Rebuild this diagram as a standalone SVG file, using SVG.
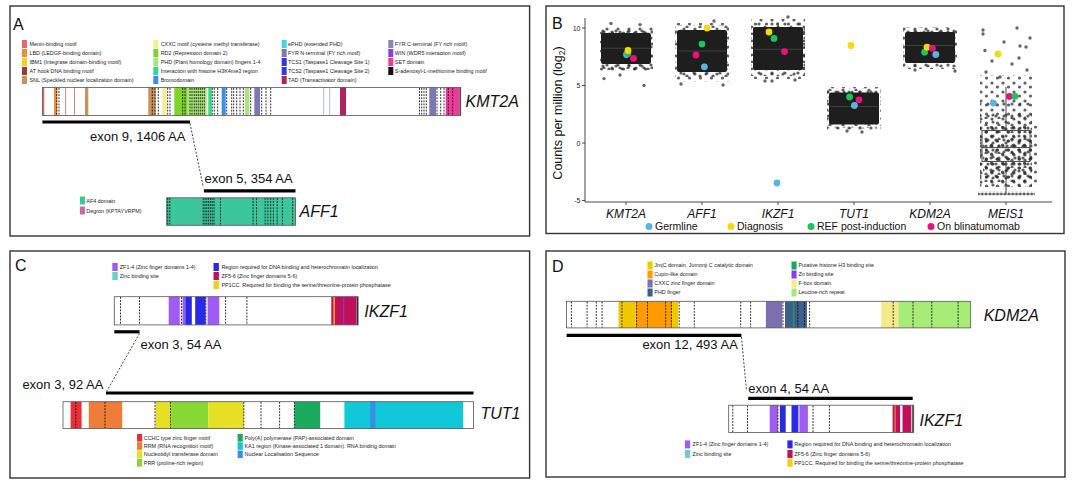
<svg xmlns="http://www.w3.org/2000/svg" width="1075" height="484" viewBox="0 0 1075 484">
<style>
.fr{fill:none;stroke:#333;stroke-width:1.4}
.pl{font-family:"Liberation Sans",Arial,sans-serif;font-size:16px;fill:#111}
.g{font-family:"Liberation Sans",Arial,sans-serif;font-size:16px;font-style:italic;fill:#111}
.ex{font-family:"Liberation Sans",Arial,sans-serif;font-size:13px;fill:#111}
.lg{font-family:"Liberation Sans",Arial,sans-serif;font-size:5.4px;fill:#222}
.bar{fill:#fff}
.bo{fill:none;stroke:#555;stroke-width:0.8}
.dl{fill:none;stroke:#111;stroke-width:0.9;stroke-dasharray:1.8 1.3}
.eb{stroke:#000;stroke-width:3.2}
.cn{fill:none;stroke:#111;stroke-width:0.8;stroke-dasharray:2 1.6}
.bx{fill:#fff;stroke:#444;stroke-width:0.9}
.bxo{fill:none;stroke:#333;stroke-width:0.9}
.md{stroke:#444;stroke-width:0.9}
.ax{font-family:"Liberation Sans",Arial,sans-serif;font-size:7px;fill:#222}
.xl{font-family:"Liberation Sans",Arial,sans-serif;font-size:12px;font-style:italic;fill:#111}
.lt{font-family:"Liberation Sans",Arial,sans-serif;font-size:10.5px;fill:#111}
.core{fill:#1e1e1e}
.ha{fill:url(#pa)}
.hb{fill:url(#pb)}
.hc{fill:url(#pc)}
.pt{fill:#333;fill-opacity:.75}
.axl{stroke:#333;stroke-width:0.9;fill:none}
</style>
<defs>
<pattern id="pa" width="11" height="9" patternUnits="userSpaceOnUse">
<g fill="#2a2a2a" fill-opacity="0.75"><circle cx="2" cy="2" r="1.6"/><circle cx="7.5" cy="6" r="1.6"/></g>
</pattern>
<pattern id="pb" width="13" height="7" patternUnits="userSpaceOnUse">
<g fill="#2a2a2a" fill-opacity="0.75"><circle cx="5" cy="3" r="1.6"/><circle cx="11" cy="6.2" r="1.6"/></g>
</pattern>
<pattern id="pc" width="8" height="12" patternUnits="userSpaceOnUse">
<circle cx="4" cy="8" r="1.6" fill="#2a2a2a" fill-opacity="0.75"/>
</pattern>
<pattern id="pf" width="3.8" height="4" patternUnits="userSpaceOnUse">
<circle cx="1.9" cy="2" r="1.6" fill="#333" fill-opacity="0.8"/>
</pattern>
</defs>
<rect width="1075" height="484" fill="#fff"/>

<!-- ================= PANEL A ================= -->
<g id="panel-a">
<rect class="fr" x="10" y="6" width="519.6" height="230"/>
<text class="pl" x="13" y="29.5">A</text>
<g id="legend-a">
<rect x="22" y="40" width="5" height="8" fill="#e8676b"/><text class="lg" x="29.5" y="46">Menin-binding motif</text>
<rect x="22" y="49" width="5" height="8" fill="#f08c32"/><text class="lg" x="29.5" y="55">LBD (LEDGF-binding domain)</text>
<rect x="22" y="58" width="5" height="8" fill="#f2d31b"/><text class="lg" x="29.5" y="64">IBM1 (Integrase domain-binding motif)</text>
<rect x="22" y="67" width="5" height="8" fill="#a0392e"/><text class="lg" x="29.5" y="73">AT hook DNA binding motif</text>
<rect x="22" y="76" width="5" height="8" fill="#c8925a"/><text class="lg" x="29.5" y="82">SNL (Speckled nuclear localization domain)</text>
<rect x="153.3" y="40" width="5" height="8" fill="#f3ee95"/><text class="lg" x="160.7" y="46">CXXC motif (cysteine methyl transferase)</text>
<rect x="153.3" y="49" width="5" height="8" fill="#7fd42a"/><text class="lg" x="160.7" y="55">RD2 (Repression domain 2)</text>
<rect x="153.3" y="58" width="5" height="8" fill="#a9e67a"/><text class="lg" x="160.7" y="64">PHD (Plant homology domain) fingers 1-4</text>
<rect x="153.3" y="67" width="5" height="8" fill="#2ed890"/><text class="lg" x="160.7" y="73">Interaction with histone H3K4me3 region</text>
<rect x="153.3" y="76" width="5" height="8" fill="#3a8ee6"/><text class="lg" x="160.7" y="82">Bromodomain</text>
<rect x="281.7" y="40" width="5" height="8" fill="#3dd8e0"/><text class="lg" x="288" y="46">ePHD (extended PHD)</text>
<rect x="281.7" y="49" width="5" height="8" fill="#7b79b5"/><text class="lg" x="288" y="55">FYR N-terminal (FY rich motif)</text>
<rect x="281.7" y="58" width="5" height="8" fill="#3333ee"/><text class="lg" x="288" y="64">TCS1 (Taspase1 Cleavage Site 1)</text>
<rect x="281.7" y="67" width="5" height="8" fill="#3535f0"/><text class="lg" x="288" y="73">TCS2 (Taspase1 Cleavage Site 2)</text>
<rect x="281.7" y="76" width="5" height="8" fill="#b0245a"/><text class="lg" x="288" y="82">TAD (Transactivator domain)</text>
<rect x="388.3" y="40" width="5" height="8" fill="#8a84b8"/><text class="lg" x="394.8" y="46">FYR C-terminal (FY rich motif)</text>
<rect x="388.3" y="49" width="5" height="8" fill="#8a3cf0"/><text class="lg" x="394.8" y="55">WIN (WDR5 interaction motif)</text>
<rect x="388.3" y="58" width="5" height="8" fill="#f03a9a"/><text class="lg" x="394.8" y="64">SET domain</text>
<rect x="388.3" y="67" width="5" height="8" fill="#111"/><text class="lg" x="394.8" y="73">S-adenosyl-L-methionine binding motif</text>
</g>
<g id="kmt2a">
<rect class="bar" x="42.4" y="87.5" width="418.3" height="28"/>
<g>
<rect x="42.4" y="87.5" width="1.9" height="28" fill="#e8676b"/>
<rect x="54" y="87.5" width="3.3" height="28" fill="#f08c32"/>
<rect x="65.3" y="87.5" width="0.8" height="28" fill="#b9706a"/>
<rect x="74" y="87.5" width="0.8" height="28" fill="#cc6a5e"/>
<rect x="85" y="87.5" width="3.3" height="28" fill="#c8925a"/>
<rect x="148.3" y="87.5" width="7.4" height="28" fill="#c8925a"/>
<rect x="162.3" y="87.5" width="4.4" height="28" fill="#f3ee95"/>
<rect x="174.3" y="87.5" width="13.4" height="28" fill="#7fd42a"/>
<rect x="187.7" y="87.5" width="19" height="28" fill="#a9e67a"/>
<rect x="208.3" y="87.5" width="3.4" height="28" fill="#34d68c"/>
<rect x="221.7" y="87.5" width="4" height="28" fill="#3a8ee6"/>
<rect x="245" y="87.5" width="4.3" height="28" fill="#a9e67a"/>
<rect x="254.3" y="87.5" width="5.7" height="28" fill="#7b79b5"/>
<rect x="323.3" y="87.5" width="0.9" height="28" fill="#a8a8ee"/>
<rect x="329.3" y="87.5" width="0.9" height="28" fill="#a8a8ee"/>
<rect x="340" y="87.5" width="6" height="28" fill="#b0245a"/>
<rect x="429.3" y="87.5" width="6.7" height="28" fill="#7b79b5"/>
<rect x="445.7" y="87.5" width="13.6" height="28" fill="#f03a9a"/>
<rect x="459.6" y="87.5" width="1.1" height="28" fill="#000"/>
</g>
<path class="dl" d="M56.7 88V115M59 88V115M152.3 88V115M155 88V115M158.3 88V115M167.7 88V115M170 88V115M182.7 88V115M185 88V115M190 88V115M192 88V115M194.3 88V115M196.3 88V115M198.3 88V115M200.3 88V115M202.3 88V115M204.3 88V115M212.3 88V115M214.3 88V115M217.7 88V115M226.7 88V115M231.7 88V115M233.7 88V115M236.7 88V115M240 88V115M243.3 88V115M250.7 88V115M261.7 88V115M266 88V115M270.7 88V115M419.5 88V115M421.7 88V115M424 88V115M426.3 88V115M437 88V115M440.7 88V115M444 88V115M448.3 88V115M452.7 88V115"/>
<rect class="bo" x="42.4" y="87.5" width="418.3" height="28"/>
<text class="g" x="465.5" y="107">KMT2A</text>
</g>
<g id="exon9">
<line class="eb" x1="42.4" y1="122" x2="190" y2="122"/>
<text class="ex" x="90" y="141">exon 9, 1406 AA</text>
</g>
<g id="exon5">
<text class="ex" x="204.5" y="183.3">exon 5, 354 AA</text>
<line class="eb" x1="203.9" y1="190.9" x2="295.5" y2="190.9"/>
</g>
<g id="aff1">
<rect x="166.7" y="197.8" width="128.8" height="27.5" fill="#3cc79a"/>
<rect x="197.5" y="197.8" width="1" height="27.5" fill="#6fa892"/>
<path class="dl" d="M167.7 198V225M169.8 198V225M203.2 198V225M205 198V225M206.8 198V225M208.6 198V225M210.4 198V225M212.2 198V225M214 198V225M220.4 198V225M253.1 198V225M256.5 198V225M265.2 198V225M267.9 198V225M270.7 198V225M273.4 198V225M277.2 198V225M282.4 198V225M292.7 198V225"/>
<rect class="bo" x="166.7" y="197.8" width="128.8" height="27.5"/>
<text class="g" x="299.6" y="216.5">AFF1</text>
</g>
<g id="legend-aff1">
<rect x="79.9" y="196.5" width="5" height="8" fill="#3cc79a"/><text class="lg" x="86.3" y="202.5">AF4 domain</text>
<rect x="79.9" y="206.5" width="5" height="8" fill="#c86aa8"/><text class="lg" x="86.3" y="212.5">Degron (KPTAYVRPM)</text>
</g>
</g>

<!-- ================= PANEL B ================= -->
<g id="panel-b">
<rect class="fr" x="546" y="6" width="518" height="227.5"/>
<text class="pl" x="552" y="29">B</text>
<g id="axes-b">
<path class="axl" d="M585 18V202H1052"/>
<path class="axl" d="M582 28H585M582 85.5H585M582 143H585M582 200.5H585M626 202V205M702 202V205M778 202V205M854 202V205M930 202V205M1006 202V205"/>
<text class="ax" x="580.5" y="30.5" text-anchor="end">10</text>
<text class="ax" x="580.5" y="88" text-anchor="end">5</text>
<text class="ax" x="580.5" y="145.5" text-anchor="end">0</text>
<text class="ax" x="580.5" y="203" text-anchor="end">-5</text>
<text font-family="Liberation Sans, Arial, sans-serif" font-size="12.5" fill="#111" transform="translate(562,113) rotate(-90)" text-anchor="middle">Counts per million (log<tspan font-size="8.5" dy="2.8">2</tspan><tspan dy="-2.8">)</tspan></text>
<text class="xl" x="626" y="218" text-anchor="middle">KMT2A</text>
<text class="xl" x="702" y="218" text-anchor="middle">AFF1</text>
<text class="xl" x="778" y="218" text-anchor="middle">IKZF1</text>
<text class="xl" x="854" y="218" text-anchor="middle">TUT1</text>
<text class="xl" x="930" y="218" text-anchor="middle">KDM2A</text>
<text class="xl" x="1006" y="218" text-anchor="middle">MEIS1</text>
</g>
<g id="b-kmt2a">
<rect class="bx" x="602" y="43.2" width="48" height="10.1"/>
<rect class="ha" x="599" y="26" width="54" height="46"/>
<rect class="hb" x="599" y="28" width="54" height="42"/>
<rect class="hc" x="599" y="29" width="54" height="40"/>
<rect class="core" x="601" y="33" width="50" height="31" rx="2"/>
<line class="md" x1="602" y1="48.2" x2="650" y2="48.2"/>
<circle class="pt" cx="611" cy="23.4" r="1.7"/><circle class="pt" cx="640" cy="24.6" r="1.7"/><circle class="pt" cx="604" cy="78.6" r="1.7"/><circle class="pt" cx="644" cy="85.5" r="1.7"/><circle class="pt" cx="620" cy="75" r="1.7"/>
<circle cx="626.5" cy="54.5" r="3.4" fill="#5ab4e0"/>
<circle cx="628" cy="53.3" r="3.4" fill="#1cc45a"/>
<circle cx="628" cy="50.5" r="3.4" fill="#f5d90a"/>
<circle cx="633.5" cy="58.4" r="3.4" fill="#e8137a"/>
</g>
<g id="b-aff1">
<rect class="bx" x="678" y="45.3" width="48" height="11.5"/>
<rect class="ha" x="675" y="23" width="54" height="59"/>
<rect class="hb" x="675" y="25" width="54" height="53"/>
<rect class="hc" x="675" y="26" width="54" height="50"/>
<rect class="core" x="677" y="30" width="50" height="42" rx="2"/>
<line class="md" x1="678" y1="51" x2="726" y2="51"/>
<circle class="pt" cx="681" cy="84" r="1.7"/><circle class="pt" cx="723" cy="85" r="1.7"/><circle class="pt" cx="714" cy="21" r="1.7"/>
<circle cx="704.4" cy="66.8" r="3.4" fill="#5ab4e0"/>
<circle cx="707" cy="28" r="3.4" fill="#f5d90a"/>
<circle cx="702" cy="44.1" r="3.4" fill="#1cc45a"/>
<circle cx="696" cy="55" r="3.4" fill="#e8137a"/>
</g>
<g id="b-ikzf1">
<line class="md" x1="778" y1="22.3" x2="778" y2="70.6"/>
<rect class="bx" x="754" y="41.8" width="48" height="16.1"/>
<rect class="ha" x="751" y="19" width="54" height="60"/>
<rect class="hb" x="751" y="21" width="54" height="55"/>
<rect class="hc" x="751" y="22" width="54" height="52"/>
<rect class="core" x="753" y="27" width="50" height="43" rx="2"/>
<line class="md" x1="754" y1="49.3" x2="802" y2="49.3"/>
<circle class="pt" cx="765" cy="81" r="1.7"/><circle class="pt" cx="772" cy="81" r="1.7"/><circle class="pt" cx="795" cy="80" r="1.7"/><circle class="pt" cx="788" cy="17" r="1.7"/>
<circle cx="769" cy="32" r="3.4" fill="#f5d90a"/>
<circle cx="774" cy="38.4" r="3.4" fill="#1cc45a"/>
<circle cx="784.5" cy="51.6" r="3.4" fill="#e8137a"/>
<circle cx="777" cy="183" r="3.4" fill="#5ab4e0"/>
</g>
<g id="b-tut1">
<rect class="bx" x="830" y="102.2" width="48" height="8.6"/>
<rect class="ha" x="827" y="87" width="54" height="43"/>
<rect class="hb" x="827" y="88.5" width="54" height="40"/>
<rect class="hc" x="827" y="89.5" width="54" height="38"/>
<rect class="core" x="829" y="92.5" width="50" height="32" rx="2"/>
<line class="md" x1="830" y1="106.5" x2="878" y2="106.5"/>
<circle class="pt" cx="862" cy="132" r="1.7"/><circle class="pt" cx="847" cy="131" r="1.7"/>
<circle cx="851" cy="45.5" r="3.4" fill="#f5d90a"/>
<circle cx="849.6" cy="97" r="3.4" fill="#1cc45a"/>
<circle cx="854.4" cy="105.5" r="3.4" fill="#5ab4e0"/>
<circle cx="859" cy="99.8" r="3.4" fill="#e8137a"/>
</g>
<g id="b-kdm2a">
<rect class="bx" x="906" y="41.8" width="48" height="8.1"/>
<rect class="ha" x="903" y="26" width="54" height="43"/>
<rect class="hb" x="903" y="27.5" width="54" height="40"/>
<rect class="hc" x="903" y="28.5" width="54" height="38"/>
<rect class="core" x="905" y="32" width="50" height="31" rx="2"/>
<line class="md" x1="906" y1="45.5" x2="954" y2="45.5"/>
<circle class="pt" cx="955" cy="71" r="1.7"/><circle class="pt" cx="915" cy="70" r="1.7"/>
<circle cx="924.6" cy="52.2" r="3.4" fill="#1cc45a"/>
<circle cx="935.8" cy="54.5" r="3.4" fill="#5ab4e0"/>
<circle cx="927" cy="47.2" r="3.4" fill="#f5d90a"/>
<circle cx="932.4" cy="48.2" r="3.4" fill="#e8137a"/>
</g>
<g id="b-meis1">
<rect class="ha" x="980" y="75" width="52" height="112"/>
<rect class="hc" x="980" y="100" width="52" height="87"/>
<rect class="hb" x="980" y="112" width="52" height="75"/>
<rect class="ha" x="980" y="122" width="52" height="58" transform="translate(5 4)"/>
<rect class="hc" x="980" y="130" width="52" height="40" transform="translate(3 6)"/>
<rect x="978" y="191.6" width="57" height="4" fill="url(#pf)"/>
<circle class="pt" cx="985" cy="50.5" r="1.7"/><circle class="pt" cx="1026" cy="47" r="1.7"/><circle class="pt" cx="1020" cy="46" r="1.7"/><circle class="pt" cx="1030" cy="38" r="1.7"/><circle class="pt" cx="983" cy="30" r="1.7"/><circle class="pt" cx="983" cy="34" r="1.7"/><circle class="pt" cx="1017" cy="28" r="1.7"/><circle class="pt" cx="1004" cy="42" r="1.7"/><circle class="pt" cx="992" cy="61" r="1.7"/><circle class="pt" cx="1012" cy="64" r="1.7"/><circle class="pt" cx="1027" cy="70" r="1.7"/><circle class="pt" cx="986" cy="72" r="1.7"/><circle class="pt" cx="1000" cy="77" r="1.7"/><circle class="pt" cx="1019" cy="58" r="1.7"/>
<line x1="1006" y1="87" x2="1006" y2="130.4" stroke="#333" stroke-width="0.9"/>
<line x1="1006" y1="161.4" x2="1006" y2="193.6" stroke="#333" stroke-width="0.9"/>
<rect class="bxo" x="982" y="130.4" width="48" height="31"/>
<line x1="982" y1="147.6" x2="1030" y2="147.6" stroke="#333" stroke-width="0.9"/>
<circle cx="998" cy="53.9" r="3.4" fill="#f5d90a"/>
<circle cx="993.4" cy="103.1" r="3.4" fill="#5ab4e0"/>
<circle cx="1009.4" cy="96.4" r="3.4" fill="#e8137a"/>
<circle cx="1015" cy="96.4" r="3.4" fill="#1cc45a"/>
</g>
<g id="legend-b">
<circle cx="649" cy="226.5" r="3.5" fill="#5ab4e0"/><text class="lt" x="655" y="230">Germline</text>
<circle cx="731" cy="226.5" r="3.5" fill="#f5d90a"/><text class="lt" x="737" y="230">Diagnosis</text>
<circle cx="811" cy="226.5" r="3.5" fill="#1cc45a"/><text class="lt" x="817" y="230">REF post-induction</text>
<circle cx="931" cy="226.5" r="3.5" fill="#e8137a"/><text class="lt" x="937" y="230">On blinatumomab</text>
</g>
</g>

<!-- ================= PANEL C ================= -->
<g id="panel-c">
<rect class="fr" x="10" y="251" width="519.6" height="227"/>
<text class="pl" x="15" y="271">C</text>
<g id="legend-c-top">
<rect x="112.3" y="263" width="5.4" height="8" fill="#a05cf2"/><text class="lg" x="119.8" y="268.7">ZF1-4 (Zinc finger domains 1-4)</text>
<rect x="112.3" y="272" width="5.4" height="8" fill="#6cd0c0"/><text class="lg" x="119.8" y="277.7">Zinc binding site</text>
<rect x="213.5" y="263" width="5.4" height="8" fill="#2a2ae6"/><text class="lg" x="221.4" y="268.7">Region  required for DNA binding and heterochromatin localization</text>
<rect x="213.5" y="272" width="5.4" height="8" fill="#c0105a"/><text class="lg" x="221.4" y="277.7">ZF5-6 (Zinc finger domains 5-6)</text>
<rect x="213.5" y="281" width="5.4" height="8" fill="#f0d010"/><text class="lg" x="221.4" y="286.7">PP1CC. Required for binding the serine/threonine-protein phosphatase</text>
</g>
<g id="ikzf1-c">
<rect class="bar" x="114.3" y="296.7" width="243.8" height="28.2"/>
<rect x="168.7" y="296.7" width="11.1" height="28.2" fill="#a05cf2"/>
<rect x="182.5" y="296.7" width="2.8" height="28.2" fill="#a05cf2"/>
<rect x="185.3" y="296.7" width="6.5" height="28.2" fill="#2a2ae6"/>
<rect x="195.2" y="296.7" width="10.4" height="28.2" fill="#2a2ae6"/>
<rect x="207.6" y="296.7" width="11.7" height="28.2" fill="#a05cf2"/>
<rect x="331.3" y="296.7" width="25.1" height="28.2" fill="#c0105a"/>
<rect x="333.3" y="296.7" width="1.7" height="28.2" fill="#f5a020"/>
<rect x="343.2" y="296.7" width="1" height="28.2" fill="#8040d0"/>
<rect x="356.6" y="296.7" width="1.5" height="28.2" fill="#222"/>
<path class="dl" d="M120.5 297V324.5M139.5 297V324.5M181.5 297V324.5M205.9 297V324.5M225.6 297V324.5M246.9 297V324.5"/>
<rect class="bo" x="114.3" y="296.7" width="243.8" height="28.2"/>
<text class="g" x="364.3" y="317.3">IKZF1</text>
</g>
<g id="exon3-ikzf1">
<line class="eb" x1="114.3" y1="331.8" x2="139.5" y2="331.8"/>
<text class="ex" x="140.5" y="349.3">exon 3, 54 AA</text>
</g>
<g id="exon3-tut1">
<text class="ex" x="22.4" y="388.6">exon 3, 92 AA</text>
<line class="eb" x1="106" y1="393" x2="473.5" y2="393"/>
</g>
<g id="tut1">
<rect class="bar" x="63" y="401.7" width="410.5" height="26.8"/>
<rect x="70.6" y="401.7" width="11" height="26.8" fill="#e8303a"/>
<rect x="88.8" y="401.7" width="33.4" height="26.8" fill="#f07c3a"/>
<rect x="155.6" y="401.7" width="15.5" height="26.8" fill="#e6e025"/>
<rect x="171.1" y="401.7" width="37.2" height="26.8" fill="#88d838"/>
<rect x="208.3" y="401.7" width="35.5" height="26.8" fill="#e6e025"/>
<rect x="294.4" y="401.7" width="25.8" height="26.8" fill="#1aab5e"/>
<rect x="344.4" y="401.7" width="118.8" height="26.8" fill="#10c8d8"/>
<rect x="370.2" y="401.7" width="5.1" height="26.8" fill="#3a8ee6"/>
<path class="dl" d="M75.8 402V428M105 402V428M155 402V428M170.5 402V428M243.8 402V428M261 402V428M279.6 402V428M294.4 402V428"/>
<rect class="bo" x="63" y="401.7" width="410.5" height="26.8"/>
<text class="g" x="480.4" y="418.9">TUT1</text>
</g>
<g id="legend-c-bottom">
<rect x="137" y="434" width="5.2" height="7.6" fill="#e8303a"/><text class="lg" x="143.8" y="439.5">CCHC type zinc finger motif</text>
<rect x="137" y="442.2" width="5.2" height="7.6" fill="#f07c3a"/><text class="lg" x="143.8" y="447.7">RRM (RNA recognition motif)</text>
<rect x="137" y="450.5" width="5.2" height="7.6" fill="#e6e025"/><text class="lg" x="143.8" y="456.2">Nucleotidyl transferase domain</text>
<rect x="137" y="459" width="5.2" height="7.6" fill="#88d838"/><text class="lg" x="143.8" y="464.7">PRR (proline-rich region)</text>
<rect x="237.6" y="434" width="5.2" height="7.6" fill="#1aab5e"/><text class="lg" x="244.5" y="439.5">Poly(A) polymerase (PAP)-associated domain</text>
<rect x="237.6" y="442.2" width="5.2" height="7.6" fill="#10c8d8"/><text class="lg" x="244.5" y="447.7">KA1 region (Kinase-associated 1 domain). RNA binding domain</text>
<rect x="237.6" y="450.5" width="5.2" height="7.6" fill="#3a8ee6"/><text class="lg" x="244.5" y="456.2">Nuclear Localisation Sequence</text>
</g>
</g>

<!-- ================= PANEL D ================= -->
<g id="panel-d">
<rect class="fr" x="546" y="251" width="519" height="226"/>
<text class="pl" x="552" y="271.6">D</text>
<g id="legend-d-top">
<rect x="647.5" y="261.5" width="5.1" height="8" fill="#f0c800"/><text class="lg" x="654.3" y="267.4">JmjC domain, Jumonji C catalytic domain</text>
<rect x="647.5" y="270.5" width="5.1" height="8" fill="#ff9a00"/><text class="lg" x="654.3" y="276.4">Cupin-like domain</text>
<rect x="647.5" y="279.5" width="5.1" height="8" fill="#7b6fb0"/><text class="lg" x="654.3" y="285.4">CXXC zinc finger domain</text>
<rect x="647.5" y="288.5" width="5.1" height="8" fill="#3e5f8a"/><text class="lg" x="654.3" y="294.4">PHD finger</text>
<rect x="791.5" y="261.5" width="5.1" height="8" fill="#1aa860"/><text class="lg" x="798.4" y="267.4">Putative histone H3 binding site</text>
<rect x="791.5" y="270.5" width="5.1" height="8" fill="#8a3cf0"/><text class="lg" x="798.4" y="276.4">Zn binding site</text>
<rect x="791.5" y="279.5" width="5.1" height="8" fill="#f5ea8a"/><text class="lg" x="798.4" y="285.4">F-box domain</text>
<rect x="791.5" y="288.5" width="5.1" height="8" fill="#a8ec78"/><text class="lg" x="798.4" y="294.4">Leucine-rich repeat</text>
</g>
<g id="kdm2a">
<rect class="bar" x="566.6" y="301.3" width="404.1" height="26.6"/>
<rect x="618.5" y="301.3" width="17.1" height="26.6" fill="#f0c800"/>
<rect x="635.6" y="301.3" width="36.5" height="26.6" fill="#ff9a00"/>
<rect x="672.1" y="301.3" width="6.1" height="26.6" fill="#f0c800"/>
<rect x="765.9" y="301.3" width="16.4" height="26.6" fill="#7b6fb0"/>
<rect x="785" y="301.3" width="21.9" height="26.6" fill="#3e5f8a"/>
<rect x="793.2" y="301.3" width="1" height="26.6" fill="#1aa860"/>
<rect x="881.3" y="301.3" width="17.1" height="26.6" fill="#f5ea8a"/>
<rect x="898.4" y="301.3" width="72.3" height="26.6" fill="#a8ec78"/>
<path class="dl" d="M571.4 301.7V327.5M587.1 301.7V327.5M596.3 301.7V327.5M602.1 301.7V327.5M621.9 301.7V327.5M636.6 301.7V327.5M647.5 301.7V327.5M665.6 301.7V327.5M671.4 301.7V327.5M679.2 301.7V327.5M694.3 301.7V327.5M740.7 301.7V327.5M750.6 301.7V327.5M783 301.7V327.5M797.7 301.7V327.5M804.5 301.7V327.5M809.6 301.7V327.5M893.2 301.7V327.5M913 301.7V327.5M931.8 301.7V327.5M958.1 301.7V327.5"/>
<rect class="bo" x="566.6" y="301.3" width="404.1" height="26.6"/>
<text class="g" x="983.7" y="320.8">KDM2A</text>
</g>
<g id="exon12">
<line class="eb" x1="566.6" y1="335.4" x2="741.4" y2="335.4"/>
<text class="ex" x="642.4" y="349.1">exon 12, 493 AA</text>
</g>
<g id="exon4">
<text class="ex" x="748.2" y="392.5">exon 4, 54 AA</text>
<line class="eb" x1="748.2" y1="398.3" x2="912.7" y2="398.3"/>
</g>
<g id="ikzf1-d">
<rect class="bar" x="728.7" y="405.2" width="185" height="27.3"/>
<rect x="769.7" y="405.2" width="8.2" height="27.3" fill="#a05cf2"/>
<rect x="779.9" y="405.2" width="5.8" height="27.3" fill="#2a2ae6"/>
<rect x="791.5" y="405.2" width="6.9" height="27.3" fill="#2a2ae6"/>
<rect x="799.4" y="405.2" width="8.5" height="27.3" fill="#a05cf2"/>
<rect x="892.6" y="405.2" width="7.5" height="27.3" fill="#c0105a"/>
<rect x="894.6" y="405.2" width="1" height="27.3" fill="#f5a020"/>
<rect x="902.5" y="405.2" width="8.8" height="27.3" fill="#c0105a"/>
<rect x="912.3" y="405.2" width="1.4" height="27.3" fill="#222"/>
<path class="dl" d="M732.8 405.6V432M747.5 405.6V432M777.9 405.6V432M813 405.6V432M829.4 405.6V432"/>
<rect class="bo" x="728.7" y="405.2" width="185" height="27.3"/>
<text class="g" x="919.5" y="426.3">IKZF1</text>
</g>
<g id="legend-d-bottom">
<rect x="685" y="440.4" width="5.2" height="8" fill="#a05cf2"/><text class="lg" x="692.6" y="446.3">ZF1-4 (Zinc finger domains 1-4)</text>
<rect x="685" y="450" width="5.2" height="8" fill="#6cd0c0"/><text class="lg" x="692.6" y="455.9">Zinc binding site</text>
<rect x="787.4" y="440.4" width="5.2" height="8" fill="#2a2ae6"/><text class="lg" x="794.3" y="446.3">Region  required for DNA binding and heterochromatin localization</text>
<rect x="787.4" y="450" width="5.2" height="8" fill="#c0105a"/><text class="lg" x="794.3" y="455.9">ZF5-6 (Zinc finger domains 5-6)</text>
<rect x="787.4" y="458.8" width="5.2" height="8" fill="#f0d010"/><text class="lg" x="794.3" y="464.7">PP1CC. Required for binding the serine/threonine-protein phosphatase</text>
</g>
</g>

<!-- ================= CONNECTORS ================= -->
<g id="connectors">
<path class="cn" d="M190 123.5L203.2 186.7"/>
<path class="cn" d="M139.5 333.5L106.7 391.3"/>
<path class="cn" d="M741.4 337L746.5 390.5"/>
</g>
</svg>
